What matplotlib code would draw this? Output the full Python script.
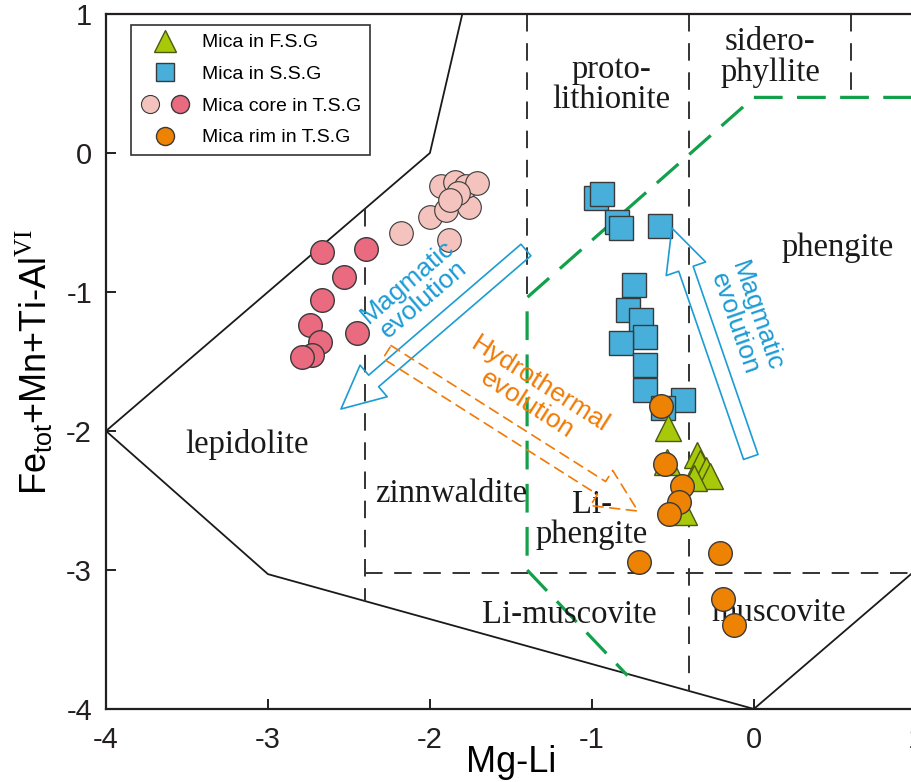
import matplotlib
matplotlib.use('Agg')
import matplotlib.pyplot as plt
from matplotlib.patches import FancyArrowPatch, ArrowStyle
from matplotlib.legend_handler import HandlerTuple
from matplotlib.lines import Line2D

plt.rcParams['mathtext.fontset'] = 'custom'
plt.rcParams['mathtext.rm'] = 'Liberation Serif'
plt.rcParams['mathtext.sf'] = 'Liberation Sans'
plt.rcParams['mathtext.it'] = 'Liberation Sans:italic'

SANS = 'Liberation Sans'
SERIF = 'Liberation Serif'

# mica analyses (Mg-Li, Fe_tot+Mn+Ti-Al_VI)
fsg_x = [-0.531, -0.537, -0.352, -0.333, -0.296, -0.272, -0.370, -0.432]
fsg_y = [-1.978, -2.223, -2.173, -2.230, -2.281, -2.324, -2.338, -2.583]

ssg_x = [-0.975, -0.938, -0.846, -0.821, -0.580, -0.741, -0.778, -0.698,
         -0.673, -0.821, -0.673, -0.673, -0.438, -0.562]
ssg_y = [-0.324, -0.295, -0.496, -0.540, -0.525, -0.950, -1.129, -1.201,
         -1.324, -1.367, -1.525, -1.705, -1.777, -1.835]

core_light_x = [-2.179, -2.000, -1.883, -1.901, -1.759, -1.932, -1.846, -1.778,
                -1.710, -1.827, -1.877]
core_light_y = [-0.576, -0.460, -0.626, -0.410, -0.388, -0.237, -0.209, -0.237,
                -0.216, -0.288, -0.338]

core_dark_x = [-2.667, -2.395, -2.531, -2.667, -2.741, -2.451, -2.679, -2.728, -2.790]
core_dark_y = [-0.712, -0.691, -0.892, -1.057, -1.237, -1.295, -1.360, -1.450, -1.470]

rim_x = [-0.574, -0.549, -0.444, -0.463, -0.525, -0.710, -0.210, -0.191, -0.123]
rim_y = [-1.820, -2.237, -2.396, -2.511, -2.597, -2.942, -2.878, -3.209, -3.396]

# field boundaries of the classification diagram
outer_x = [-1.8, -2.0, -4.0, -3.0, 0.0, 1.0]
outer_y = [1.0, 0.0, -2.0, -3.03, -4.0, -3.0]

black_dashed = [
    ([-2.4, -2.4], [-0.4, -3.22]),
    ([-2.4, 1.0], [-3.02, -3.02]),
    ([-1.4, -1.4], [1.0, -1.04]),
    ([-0.4, -0.4], [1.0, -3.87]),
    ([0.6, 0.6], [1.0, 0.4]),
]
green_x = [1.0, 0.0, -1.4, -1.4, -0.78]
green_y = [0.4, 0.4, -1.04, -3.0, -3.76]

field_labels = [
    ('proto-\nlithionite', -0.88, 0.49),
    ('sidero-\nphyllite', 0.10, 0.69),
    ('phengite', 0.52, -0.68),
    ('lepidolite', -3.13, -2.10),
    ('zinnwaldite', -1.87, -2.45),
    ('Li-\nphengite', -1.0, -2.64),
    ('Li-muscovite', -1.14, -3.32),
    ('muscovite', 0.15, -3.31),
]

blue = '#1c9bd5'
orange = '#f07a05'

fig = plt.figure(figsize=(9.12, 7.82), dpi=100)
ax = fig.add_axes([0.1162, 0.0934, 0.888, 0.8887])
ax.set_xlim(-4, 1)
ax.set_ylim(-4, 1)

ax.plot(outer_x, outer_y, color='#1a1a1a', lw=1.3, zorder=2)
for xs, ys in black_dashed:
    ax.plot(xs, ys, color='#333333', lw=1.4, ls=(0, (9, 6)), zorder=2)
ax.plot(green_x, green_y, color='#12a04a', lw=2.3, ls=(0, (9, 4.5)), zorder=2)

for txt, x, y in field_labels:
    ax.text(x, y, txt, family=SERIF, fontsize=23.5, ha='center', va='center',
            linespacing=1.0, color='#1a1a1a', zorder=3)

ec = '#3a3a3a'
ax.plot(ssg_x, ssg_y, ls='none', marker='s', ms=17, mfc='#47afd9', mec=ec, mew=1.0, zorder=5)
ax.plot(fsg_x, fsg_y, ls='none', marker='^', ms=19, mfc='#a8c90a', mec='#4a5a10', mew=1.0, zorder=6)
ax.plot(rim_x, rim_y, ls='none', marker='o', ms=17, mfc='#ee8303', mec=ec, mew=1.0, zorder=7)
ax.plot(core_light_x, core_light_y, ls='none', marker='o', ms=17, mfc='#f4c3bd', mec=ec, mew=0.8, zorder=5)
ax.plot(core_dark_x, core_dark_y, ls='none', marker='o', ms=17, mfc='#ea6a80', mec=ec, mew=1.0, zorder=5)

# evolution arrows (hollow)
style = ArrowStyle.Simple(head_length=3.1, head_width=3.0, tail_width=1.1)
for (p0, p1, col, lsty) in [((-1.407, -0.698), (-2.549, -1.842), blue, '-'),
                            ((-0.019, -2.187), (-0.506, -0.540), blue, '-'),
                            ((-2.265, -1.432), (-0.716, -2.576), orange, (0, (6, 4)))]:
    arr = FancyArrowPatch(p0, p1, arrowstyle=style, mutation_scale=10,
                          fc='none', ec=col, lw=1.2, ls=lsty,
                          shrinkA=0, shrinkB=0, zorder=8)
    ax.add_patch(arr)

ax.text(-2.09, -0.99, 'Magmatic\nevolution', rotation=40.5, color=blue, family=SANS,
        fontsize=19, ha='center', va='center', linespacing=1.0, rotation_mode='anchor', zorder=9)
ax.text(-0.05, -1.20, 'Magmatic\nevolution', rotation=-71, color=blue, family=SANS,
        fontsize=19, ha='center', va='center', linespacing=1.0, rotation_mode='anchor', zorder=9)
ax.text(-1.36, -1.74, 'Hydrothermal\nevolution', rotation=-32.5, color=orange, family=SANS,
        fontsize=19, ha='center', va='center', linespacing=1.0, rotation_mode='anchor', zorder=9)

# axes styling
for side in ['left', 'bottom', 'top', 'right']:
    ax.spines[side].set_linewidth(1.6)
    ax.spines[side].set_color('#231f20')
ax.set_xticks([-4, -3, -2, -1, 0, 1])
ax.set_yticks([-4, -3, -2, -1, 0, 1])
ax.set_xticklabels(['-4', '-3', '-2', '-1', '0', '1'])
ax.set_yticklabels(['-4', '-3', '-2', '-1', '0', '1'])
ax.tick_params(direction='in', length=7, width=1.4, colors='#231f20',
               labelsize=21, top=False, right=False)
ax.tick_params(axis='x', pad=12)
ax.tick_params(axis='y', pad=10)
for lab in ax.get_xticklabels() + ax.get_yticklabels():
    lab.set_family(SANS)

ax.set_xlabel('Mg-Li', family=SANS, fontsize=26, labelpad=-6)
ax.set_ylabel(r'Fe$_{\mathsf{tot}}$+Mn+Ti-Al$^{\mathrm{VI}}$', family=SANS, fontsize=26, labelpad=8)

# legend
h_tri = Line2D([], [], ls='none', marker='^', ms=16, mfc='#a8c90a', mec='#4a5a10', mew=1.0)
h_sq = Line2D([], [], ls='none', marker='s', ms=13, mfc='#47afd9', mec=ec, mew=1.0)
h_cl = Line2D([], [], ls='none', marker='o', ms=13, mfc='#f4c3bd', mec=ec, mew=0.8)
h_cd = Line2D([], [], ls='none', marker='o', ms=13, mfc='#ea6a80', mec=ec, mew=1.0)
h_rim = Line2D([], [], ls='none', marker='o', ms=13, mfc='#ee8303', mec=ec, mew=1.0)
leg = ax.legend([h_tri, h_sq, (h_cl, h_cd), h_rim],
                ['Mica in F.S.G', 'Mica in S.S.G', 'Mica core in T.S.G', 'Mica rim in T.S.G'],
                handler_map={tuple: HandlerTuple(ndivide=None, pad=0.5)},
                loc='upper left', bbox_to_anchor=(0.031, 0.984), frameon=True, fancybox=False,
                edgecolor='#333333', framealpha=1, prop={'family': SANS, 'size': 14},
                labelspacing=0.72, handlelength=2.6, handletextpad=0.6, borderpad=0.45,
                borderaxespad=0)
leg.get_frame().set_linewidth(1.2)
leg.set_zorder(10)

fig.savefig('out.png', dpi=100)
